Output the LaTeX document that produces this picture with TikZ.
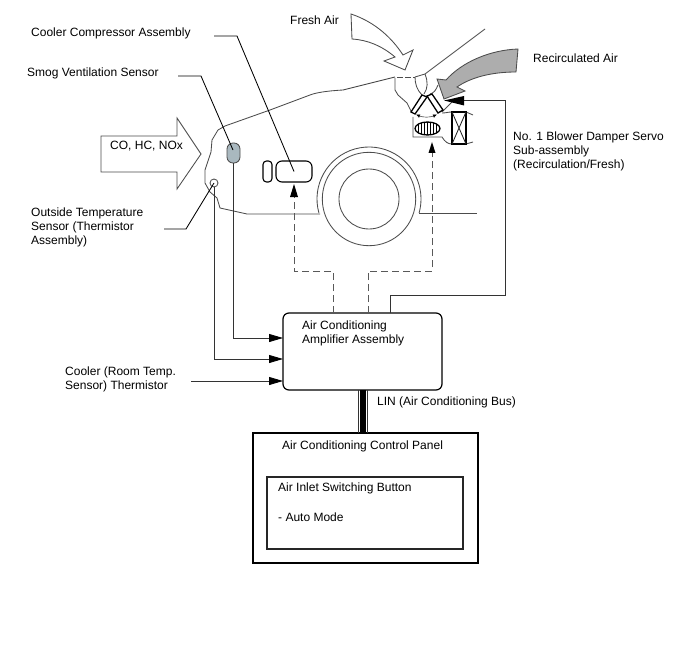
\documentclass[tikz,border=0pt]{standalone}
\usepackage{fontspec}
\setmainfont{Liberation Sans}
\usetikzlibrary{arrows.meta}
\definecolor{sensorgray}{HTML}{A9B8BF}
\tikzset{
  lbl/.style={anchor=west,inner sep=0pt,align=left,font=\fontsize{12}{14}\selectfont},
  body/.style={draw=black!70,line width=0.85pt},
  wire/.style={draw=black!80,line width=0.85pt},
  leader/.style={draw=black,line width=0.85pt},
  sigwire/.style={draw=black!65,line width=1pt,dash pattern=on 7pt off 4pt},
  headin/.style={-{Triangle[length=14pt,width=8pt,black]}},
}
\begin{document}
\begin{tikzpicture}[x=1pt,y=-1pt]
 \useasboundingbox (0,0) rectangle (688,658);
 % \draw[help lines,step=50] (0,0) grid (688,658);

 % air arrows
 \draw[body,fill=white] (351,14) .. controls (375,22) and (392,38) .. (403,55) -- (413,50) -- (405,70) -- (384,61) -- (395,57) .. controls (382,46) and (368,40) .. (352,39) -- cycle;
 \draw[body,fill=black!32] (518,49) .. controls (490,50) and (462,62) .. (446,80) -- (437,79) -- (444,99) -- (465,91) -- (457,87) .. controls (470,78) and (490,72) .. (516,72) -- cycle;
 \draw[body,fill=white] (101,136) -- (177,136) -- (177,118) -- (201,154) -- (177,189) -- (177,172) -- (101,172) -- cycle;

 % housing
 \draw[body] (343,90) -- (395,77);
 \draw[body,dash pattern=on 6pt off 2pt] (397,77) -- (415,77);
 \draw[body] (415,77) .. controls (415,84) and (417,90) .. (422,95);
 \draw[body] (425,74) .. controls (428,82) and (428,88) .. (424,94);
 \draw[body] (415,77) -- (425,74) -- (485,29);
 \draw[body] (395,78) -- (395,90) -- (398,95) -- (407,103) -- (412,113);
 \draw[body] (438,85) .. controls (436,90) and (434,93) .. (430,94);
 \draw[body] (452,102) -- (442,112);
 \draw[body] (442,113) .. controls (446,113) and (448,112) .. (452,112) (466,112) -- (473,115);
 \draw[body] (413,117) -- (413,137) -- (442,137) .. controls (445,142) and (448,144) .. (452,144) (466,144) -- (473,142);
 \draw[body] (343,90) .. controls (325,91) and (315,93) .. (310,95) -- (270,110) -- (225,126) -- (218,130) -- (212,140) -- (211,152) -- (205,170) -- (205,183) -- (210,192) -- (217,198) -- (220,208) -- (247,214) -- (320,214);
 \draw[body] (419,213) -- (477,213);

 % blower
 \coordinate (fan) at (369,199);
 \draw[body] (fan) circle (30);
 \draw[body] (fan) circle (46.7);
 \draw[body] (fan) ++(164.4:52) arc[start angle=164.4,end angle=375.6,radius=52];

 % damper
 \draw[black,line width=1.3pt,fill=white] (422,95) -- (427,97) -- (415,114) -- (411,112) -- cycle;
 \draw[black,line width=1.3pt,fill=white] (427,96) -- (432,94) -- (443,110) -- (438,113) -- cycle;
 \draw[black,{Latex[length=4pt,width=3.5pt]}-{Latex[length=4pt,width=3.5pt]}] (416,114.5) .. controls (423,117.5) and (430,117.5) .. (437,114.5);
 \draw[black,line width=1.3pt] (427.5,128.5) ellipse (12.5 and 6.5);
 \draw[black] (418.5,124) -- (418.5,133) (421.5,122.8) -- (421.5,134.2) (424.5,122.2) -- (424.5,134.8) (427.5,122) -- (427.5,135) (430.5,122.2) -- (430.5,134.8) (433.5,122.8) -- (433.5,134.2) (436.5,124) -- (436.5,133);
 \draw[black,line width=1.4pt] (452,112) rectangle (466,144);
 \draw[black!85,line width=0.85pt] (452,112) -- (466,144) (466,112) -- (452,144);

 % parts
 \node (smog) [draw=black!70,fill=sensorgray,rounded corners=6pt,minimum width=13pt,minimum height=20pt,inner sep=0pt,line width=0.85pt] at (233.5,153) {};
 \node (thermo) [circle,draw=black!70,minimum size=8pt,inner sep=0pt,line width=0.85pt] at (214,183) {};
 \node (pill) [draw=black,rounded corners=3.5pt,minimum width=9pt,minimum height=21pt,inner sep=0pt,line width=1.1pt] at (267.5,171.5) {};
 \node (comp) [draw=black,rounded corners=6pt,minimum width=36pt,minimum height=21pt,inner sep=0pt,line width=1.1pt] at (294,171.5) {};
 \node (amp) [draw=black,rounded corners=6pt,minimum width=159pt,minimum height=77pt,inner sep=0pt,line width=1.2pt] at (362.5,351.5) {};
 \node (panel) [draw=black,minimum width=225pt,minimum height=130pt,inner sep=0pt,line width=1.3pt] at (365.5,498) {};
 \node (button) [draw=black!85,minimum width=196pt,minimum height=72pt,inner sep=0pt,line width=1.1pt] at (365,513) {};

 % texts
 \node (tcomp) [lbl] at (31,33.5) {Cooler Compressor Assembly};
 \node (tsmog) [lbl] at (27,73.5) {Smog Ventilation Sensor};
 \node (tgas) [lbl] at (110,146.5) {CO, HC, NOx};
 \node (ttherm) [lbl] at (31,227.5) {Outside Temperature\\Sensor (Thermistor\\Assembly)};
 \node (tfresh) [lbl] at (290,20.5) {Fresh Air};
 \node (trecirc) [lbl] at (533,58.5) {Recirculated Air};
 \node (tservo) [lbl] at (513,151.5) {No. 1 Blower Damper Servo\\Sub-assembly\\(Recirculation/Fresh)};
 \node (tamp) [lbl] at (302,333.5) {Air Conditioning\\Amplifier Assembly};
 \node (troom) [lbl] at (65,379.5) {Cooler (Room Temp.\\Sensor) Thermistor};
 \node (tlin) [lbl] at (377,402.5) {LIN (Air Conditioning Bus)};
 \node (tpanel) [lbl] at (282,446.5) {Air Conditioning Control Panel};
 \node (tbutton) [lbl] at (278,488.5) {Air Inlet Switching Button};
 \node (tauto) [lbl] at (278,517.5) {- Auto Mode};

 % leaders
 \coordinate (lcomp) at (214,36);
 \coordinate (lsmog) at (178,76);
 \coordinate (ltherm) at (164,229);
 \draw[leader] (lcomp) -- (237,36) -- (comp.center);
 \draw[leader] (lsmog) -- (201,76) -- (233,150);
 \draw[leader] (ltherm) -- (186,229) -- (thermo.center);

 % wires
 \coordinate (inone) at (283,338);
 \coordinate (intwo) at (283,359);
 \coordinate (inthree) at (283,381);
 \coordinate (roomend) at (191,381);
 \draw[wire,headin] (smog.south) |- (inone);
 \draw[wire,headin] (thermo.south) |- (intwo);
 \draw[wire,headin] (roomend) -- (inthree);
 \coordinate (sigcomp) at (294,184);
 \coordinate (sigfan) at (432,142);
 \coordinate (ampleft) at (333,313);
 \coordinate (ampmid) at (368,313);
 \coordinate (ampright) at (390,313);
 \coordinate (servoin) at (444,100.5);
 \draw[sigwire] (ampleft) -- (333,271) -- (294,271) -- (294,197);
 \draw[sigwire] (ampmid) -- (368,271) -- (432,271) -- (432,153);
 \fill[black] (sigcomp) -- (298,197) -- (290,197) -- cycle;
 \fill[black] (sigfan) -- (435.5,153) -- (428.5,153) -- cycle;
 \draw[wire] (ampright) -- (390,295) -- (505.5,295) -- (505.5,100.5) -- (464,100.5);
 \fill[black] (servoin) -- (464,96) -- (464,105.5) -- cycle;

 % bus
 \draw[black!80,line width=0.8pt] (358.5,390) -- (358.5,433) (367.5,390) -- (367.5,433);
 \fill[black] (360,390) rectangle (366,433);
\end{tikzpicture}
\end{document}
